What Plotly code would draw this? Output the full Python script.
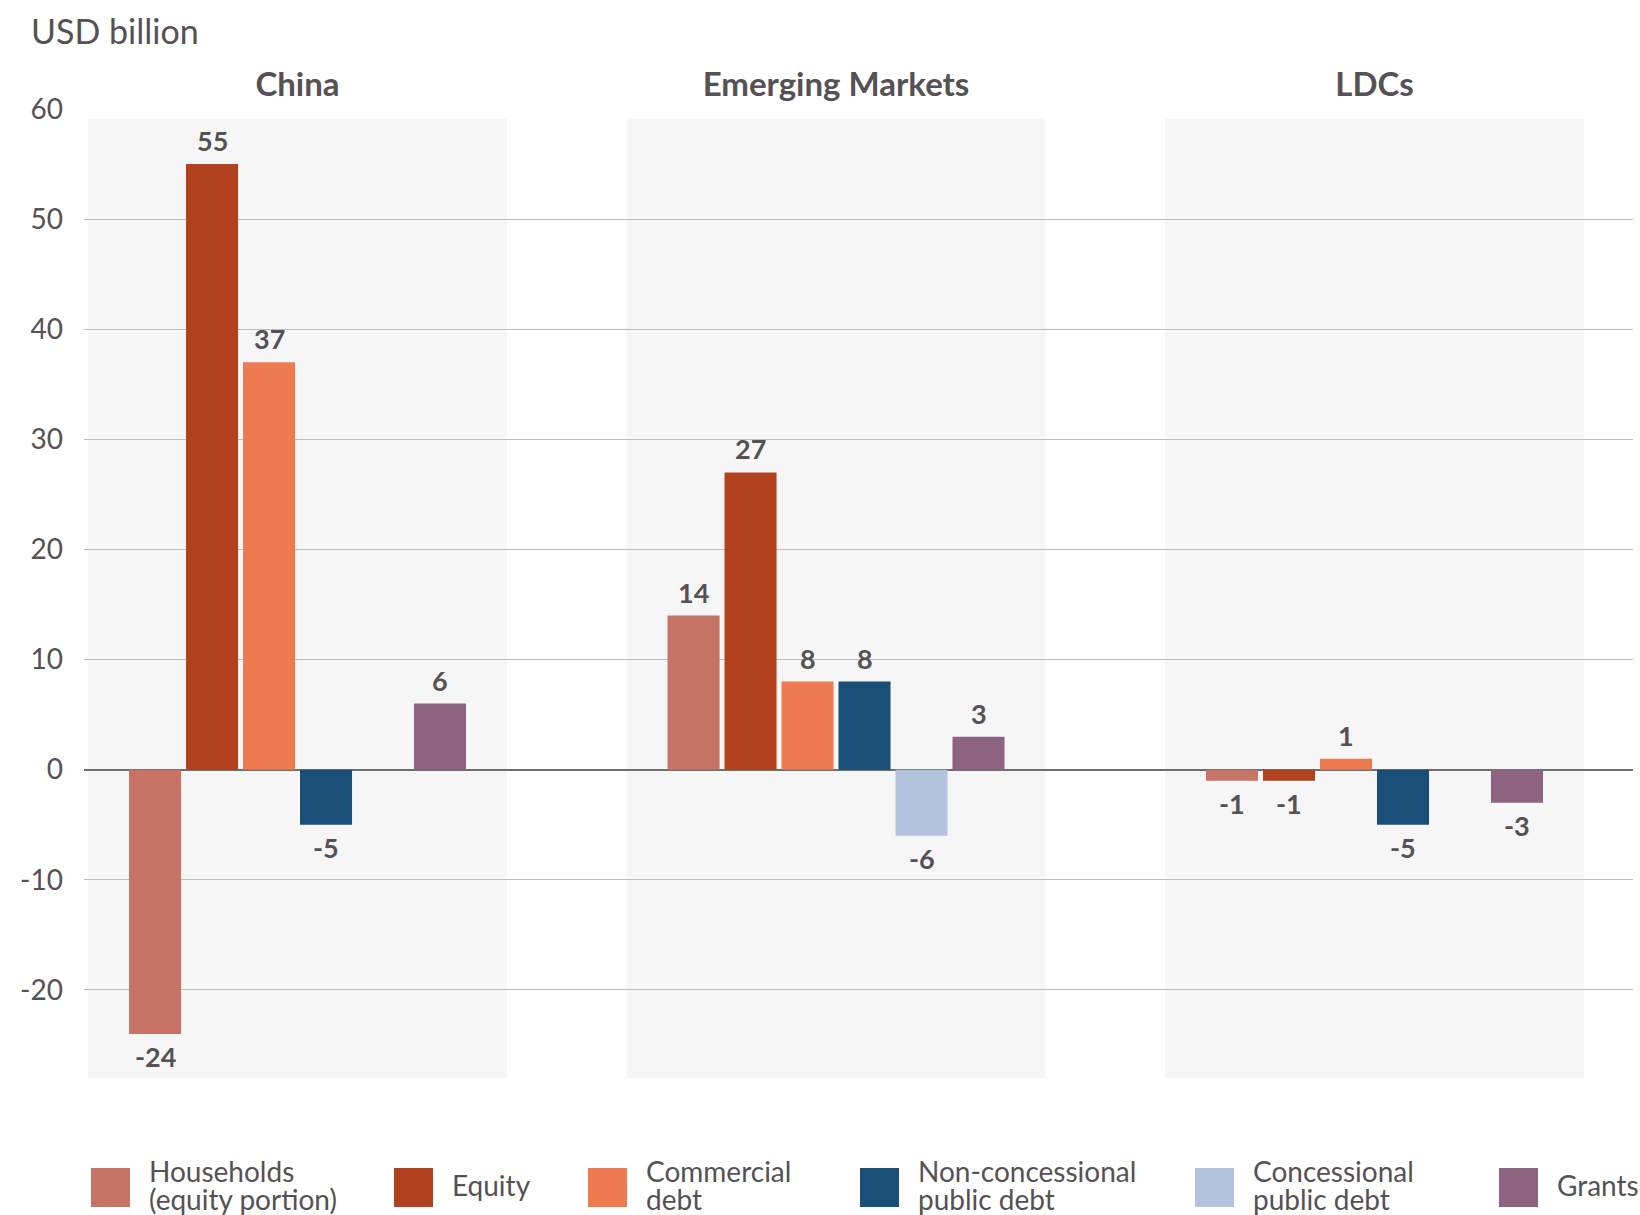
import plotly.graph_objects as go

# Data (USD billion)
groups = ["China", "Emerging Markets", "LDCs"]
series = [
    "Households (equity portion)",
    "Equity",
    "Commercial debt",
    "Non-concessional public debt",
    "Concessional public debt",
    "Grants",
]
legend_lines = [
    ["Households", "(equity portion)"],
    ["Equity"],
    ["Commercial", "debt"],
    ["Non-concessional", "public debt"],
    ["Concessional", "public debt"],
    ["Grants"],
]
households = [-24, 14, -1]
equity = [55, 27, -1]
commercial_debt = [37, 8, 1]
nonconcessional_debt = [-5, 8, -5]
concessional_debt = [None, -6, None]
grants = [6, 3, -3]
values = [households, equity, commercial_debt, nonconcessional_debt,
          concessional_debt, grants]
colors = ["#C77467", "#B1411F", "#ED7A50", "#194F77", "#B3C2DD", "#8D6380"]
y_ticks = [-20, -10, 0, 10, 20, 30, 40, 50, 60]

FONT = "Lato"
TEXT = "#555155"

W, H = 1640, 1215
ML, MR, MT, MB = 84, 7, 109, 137
PW, PH = W - ML - MR, H - MT - MB

BARGAP, BARGROUPGAP = 0.365, 0.087


def px_x(px):
    return (px - ML) / PW


def px_y(py):
    return (H - MB - py) / PH


fig = go.Figure()
for name, vals, col in zip(series, values, colors):
    fig.add_trace(go.Bar(
        x=groups, y=vals, name=name,
        marker=dict(color=col, line=dict(width=0)),
        showlegend=False,
    ))

# value labels above / below each bar, centred on the bar's slot
n = len(series)
slot = (1 - BARGAP) / n
for k, vals in enumerate(values):
    for i, v in enumerate(vals):
        if v is None:
            continue
        xc = i - (1 - BARGAP) / 2 + (k + 0.5) * slot
        fig.add_annotation(
            x=xc, y=v, xref="x", yref="y", text=str(v), showarrow=False,
            xanchor="center", yanchor="bottom" if v > 0 else "top",
            yshift=5 if v > 0 else -4,
            font=dict(family=FONT, size=27, color=TEXT, weight=700),
        )

# light panels behind each group
for i, _ in enumerate(groups):
    fig.add_shape(type="rect", xref="x", yref="y",
                  x0=i - 0.389, x1=i + 0.389, y0=-28, y1=59.12,
                  fillcolor="#F6F6F6", line=dict(width=0), layer="below")

# unit label
fig.add_annotation(text="USD billion", xref="paper", yref="paper",
                   x=px_x(29), y=px_y(30), xanchor="left", yanchor="middle",
                   showarrow=False,
                   font=dict(family=FONT, size=34, color=TEXT))

# legend: square swatches with wrapped labels
swatch_left = [91, 394, 588, 860, 1195, 1499]
for left, col, lines in zip(swatch_left, colors, legend_lines):
    fig.add_shape(type="rect", xref="paper", yref="paper",
                  x0=px_x(left), x1=px_x(left + 39),
                  y0=px_y(1207), y1=px_y(1168),
                  fillcolor=col, line=dict(width=0))
    centers = [1171, 1199] if len(lines) == 2 else [1185]
    for line, cy in zip(lines, centers):
        fig.add_annotation(text=line, xref="paper", yref="paper",
                           x=px_x(left + 56), y=px_y(cy),
                           xanchor="left", yanchor="middle", showarrow=False,
                           font=dict(family=FONT, size=28, color=TEXT))

fig.update_layout(
    width=W, height=H,
    margin=dict(l=ML, r=MR, t=MT, b=MB),
    paper_bgcolor="white", plot_bgcolor="white",
    barmode="group", bargap=BARGAP, bargroupgap=BARGROUPGAP,
    font=dict(family=FONT, color=TEXT),
    showlegend=False,
)
fig.update_xaxes(
    type="category", side="top", range=[-0.3965, 2.48],
    showgrid=False, showline=False, zeroline=False, ticks="",
    tickfont=dict(family=FONT, size=33, color=TEXT, weight=700),
    ticklabelstandoff=5,
)
fig.update_yaxes(
    range=[-28, 60], tickvals=y_ticks, ticktext=[str(v) for v in y_ticks],
    showgrid=True, gridcolor="#BDBDBD", gridwidth=1.3,
    zeroline=True, zerolinecolor="#6E6E6E", zerolinewidth=1.6,
    showline=False, ticks="",
    tickfont=dict(family=FONT, size=28, color=TEXT),
    ticklabelstandoff=20,
)

fig.write_html("out.html")
